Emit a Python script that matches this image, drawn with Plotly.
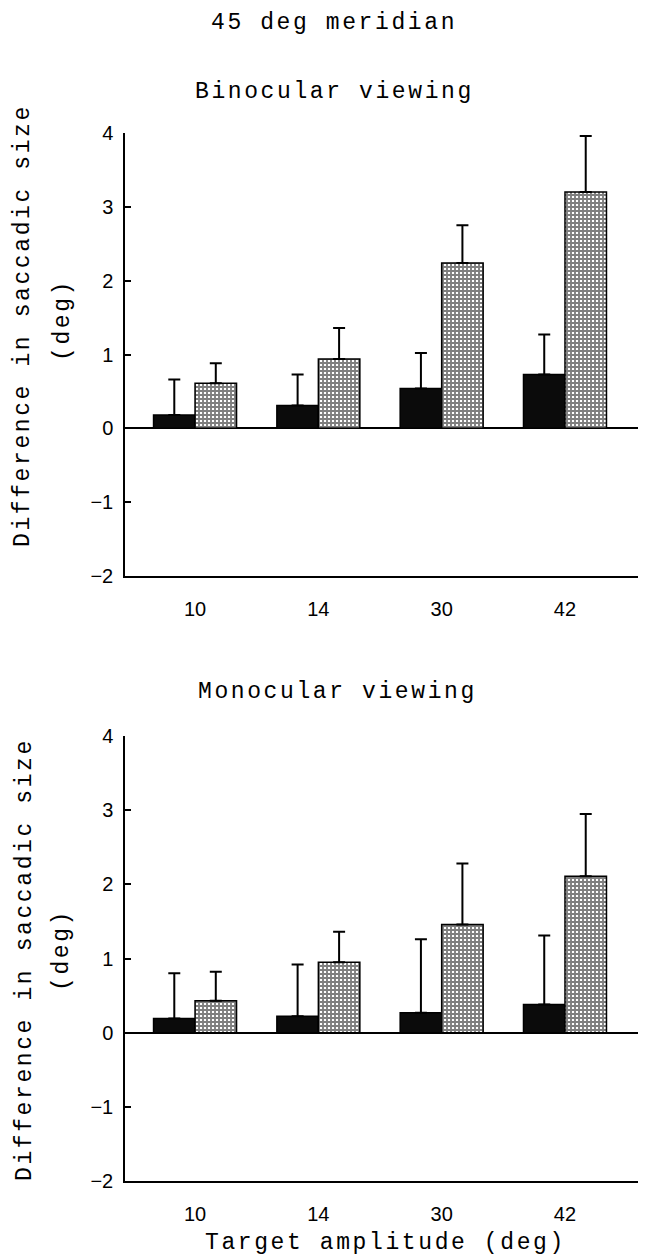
import plotly.graph_objects as go
from plotly.subplots import make_subplots

categories = ["10", "14", "30", "42"]

bino_dark = [0.18, 0.31, 0.54, 0.73]
bino_dark_err = [0.48, 0.42, 0.48, 0.54]
bino_hatch = [0.61, 0.94, 2.24, 3.20]
bino_hatch_err = [0.27, 0.42, 0.51, 0.76]

mono_dark = [0.19, 0.22, 0.27, 0.38]
mono_dark_err = [0.61, 0.70, 0.99, 0.93]
mono_hatch = [0.43, 0.95, 1.46, 2.11]
mono_hatch_err = [0.39, 0.41, 0.82, 0.84]

y_ticks = [-2, -1, 0, 1, 2, 3, 4]

# page offset of the plot div (default body margin)
OFF = 8
W, H = 646 - OFF, 1260 - OFF
L = 125 - OFF
MONO = "Liberation Mono, DejaVu Sans Mono, monospace"
SANS = "Liberation Sans, Arial, sans-serif"

fig = make_subplots(rows=2, cols=1)


def add_panel(row, dark, dark_err, hatch, hatch_err):
    fig.add_trace(go.Bar(
        x=categories, y=dark,
        marker=dict(color="#0b0b0b", line=dict(color="black", width=1.5)),
        error_y=dict(type="data", symmetric=False, array=dark_err,
                     arrayminus=[0] * len(dark_err), color="black",
                     thickness=2, width=6),
        showlegend=False,
    ), row=row, col=1)
    fig.add_trace(go.Bar(
        x=categories, y=hatch,
        marker=dict(color="white", line=dict(color="black", width=1.5),
                    pattern=dict(shape="+", fgcolor="black", bgcolor="white",
                                 size=4, solidity=0.72, fillmode="overlay")),
        error_y=dict(type="data", symmetric=False, array=hatch_err,
                     arrayminus=[0] * len(hatch_err), color="black",
                     thickness=2, width=6),
        showlegend=False,
    ), row=row, col=1)


add_panel(1, bino_dark, bino_dark_err, bino_hatch, bino_hatch_err)
add_panel(2, mono_dark, mono_dark_err, mono_hatch, mono_hatch_err)


def py(page_y):
    return 1 - (page_y - OFF) / H


def pxx(page_x):
    return (page_x - OFF - L) / (W - L)


xaxis_common = dict(
    type="category", range=[-0.568, 3.657], domain=[0, 1],
    showline=True, linecolor="black", linewidth=1.5, mirror=False,
    ticks="", showgrid=False, zeroline=False, automargin=False,
    tickfont=dict(family=SANS, size=20, color="black"),
    ticklabelstandoff=14,
)
yaxis_common = dict(
    range=[-2, 4], tickvals=y_ticks,
    showline=True, linecolor="black", linewidth=1.5,
    ticks="inside", ticklen=6, tickwidth=1.5, tickcolor="black",
    showgrid=False, zeroline=True, zerolinecolor="black", zerolinewidth=1.5,
    automargin=False,
    tickfont=dict(family=SANS, size=20, color="black"),
    ticklabelstandoff=6,
)

fig.update_layout(
    xaxis=dict(**xaxis_common),
    xaxis2=dict(**xaxis_common),
    yaxis=dict(**yaxis_common, domain=[py(576), py(133)]),
    yaxis2=dict(**yaxis_common, domain=[py(1181), py(736)]),
)

fig.update_layout(
    width=W, height=H,
    margin=dict(l=L, r=0, t=0, b=0, autoexpand=False),
    paper_bgcolor="white", plot_bgcolor="white",
    barmode="group", bargap=0.327, bargroupgap=0,
    showlegend=False,
)

SP = "letter-spacing:2.6px"


def label(text, xpx, ypx, angle=0):
    fig.add_annotation(
        text=f"<span style='{SP}'>{text}</span>",
        xref="paper", yref="paper", x=pxx(xpx), y=py(ypx),
        xanchor="center", yanchor="middle", showarrow=False,
        textangle=angle,
        font=dict(family=MONO, size=23, color="black"),
    )


label("45 deg meridian", 334, 23)
label("Binocular viewing", 334, 92)
label("Monocular viewing", 337, 692)
label("Difference in saccadic size", 23, 326, -90)
label("(deg)", 63, 320, -90)
label("Difference in saccadic size", 25, 960, -90)
label("(deg)", 62, 950, -90)
label("Target amplitude (deg)", 385, 1243)

fig.write_html("out.html")
